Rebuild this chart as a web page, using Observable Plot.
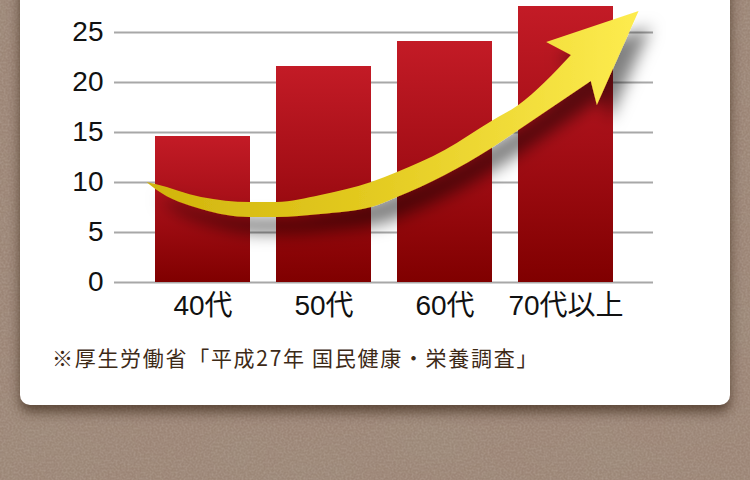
<!DOCTYPE html>
<html><head><meta charset="utf-8">
<script src="https://cdn.jsdelivr.net/npm/d3@7"></script>
<script src="https://cdn.jsdelivr.net/npm/@observablehq/plot@0.6"></script>
<style>
html,body{margin:0;padding:0;width:750px;height:480px;overflow:hidden;}
body{position:relative;background:#987f6f;}
#bg{position:absolute;left:0;top:0;}
#card{position:absolute;left:20px;top:-30px;width:710px;height:435px;background:#fff;border-radius:10px;box-shadow:0 7px 12px rgba(45,25,10,0.6);}
#chart{position:absolute;left:0;top:0;}
#caption{position:absolute;left:52px;top:342px;font-family:"Noto Sans CJK JP",sans-serif;font-size:21px;color:#3d2a17;letter-spacing:1.7px;white-space:nowrap;}
</style></head>
<body>
<svg id="bg" width="750" height="480">
  <defs>
    <filter id="tex" x="0" y="0" width="100%" height="100%">
      <feTurbulence type="fractalNoise" baseFrequency="0.008 0.014" numOctaves="4" seed="11" result="n"/>
      <feColorMatrix in="n" type="matrix" values="0 0 0 0 0.33  0 0 0 0 0.25  0 0 0 0 0.19  0 0 0 2.2 -0.95"/>
    </filter>
    <filter id="tex2" x="0" y="0" width="100%" height="100%">
      <feTurbulence type="fractalNoise" baseFrequency="0.5" numOctaves="2" seed="3" result="n"/>
      <feColorMatrix in="n" type="matrix" values="0 0 0 0 0.78  0 0 0 0 0.71  0 0 0 0 0.65  0 0 0 0.9 -0.3"/>
    </filter>
  </defs>
  <rect width="750" height="480" fill="#9c8576"/>
  <rect width="750" height="480" filter="url(#tex)"/>
  <rect width="750" height="480" filter="url(#tex2)" opacity="0.4"/>
</svg>
<div id="card"></div>
<div id="chart"></div>
<div id="caption">※厚生労働省「平成27年 国民健康・栄養調査」</div>
<script>
// ---- data ----
const categories = ["40代", "50代", "60代", "70代以上"];
const values = [14.6, 21.6, 24.1, 27.6];
const yTicks = [0, 5, 10, 15, 20, 25];

// decorative arrow outline, in chart units (u: category index offset, v: value units)
const arrowUpper = [[-0.464,10.0],[-0.390,9.8],[-0.012,8.5],[0.390,8.0],[0.612,8.0],[0.974,8.7],[1.393,10.0],[1.607,11.0],[2.001,13.2],[2.388,16.1],[2.610,17.7],[3.045,22.7]];
const arrowHead = [[2.840,24.0],[3.604,27.1],[3.259,17.7],[3.209,20.1]];
const arrowLower = [[3.209,20.1],[2.610,15.2],[2.388,13.4],[2.001,10.7],[1.607,8.5],[1.393,7.5],[0.974,6.8],[0.612,6.5],[0.390,6.5],[-0.012,7.3],[-0.390,9.3],[-0.464,10.0]];

const data = categories.map((c, i) => ({age: c, value: values[i]}));
const font = '"Liberation Sans", "Noto Sans CJK JP", sans-serif';

const plot = Plot.plot({
  width: 750, height: 330,
  marginLeft: 114, marginRight: 97, marginTop: 0, marginBottom: 48,
  style: {background: "transparent", fontFamily: font, color: "#111", overflow: "visible"},
  x: {domain: categories, paddingInner: 0.219, paddingOuter: 0.33, label: null},
  y: {domain: [0, 28.2], label: null},
  marks: [
    Plot.gridY(yTicks, {stroke: "#a8a8a8", strokeOpacity: 1, strokeWidth: 2}),
    Plot.barY(data, {x: "age", y: "value", fill: "url(#barGrad)"}),
    Plot.axisY(yTicks, {tickSize: 0, tickPadding: 11, fontSize: 28, label: null, fill: "#111"}),
    Plot.axisX({tickSize: 0, tickPadding: 13, fontSize: 28, label: null, fill: "#111"})
  ]
});
document.getElementById("chart").appendChild(plot);

const svg = d3.select(plot);
svg.insert("defs", ":first-child").html(`
  <linearGradient id="barGrad" x1="0" y1="0" x2="0" y2="1">
    <stop offset="0" stop-color="#c31b26"/>
    <stop offset="0.5" stop-color="#a40e16"/>
    <stop offset="1" stop-color="#800000"/>
  </linearGradient>
  <linearGradient id="arrowGrad" x1="0" y1="0" x2="1" y2="0">
    <stop offset="0" stop-color="#d1b40c"/>
    <stop offset="0.45" stop-color="#e3ca20"/>
    <stop offset="1" stop-color="#fdec4f"/>
  </linearGradient>
  <filter id="arrowShadow" x="-20%" y="-20%" width="150%" height="160%">
    <feDropShadow dx="12" dy="16" stdDeviation="8" flood-color="#000" flood-opacity="0.5"/>
  </filter>`);

// map decorative arrow via the plot's scales
const sx = plot.scale("x"), sy = plot.scale("y");
const x0 = sx.apply(categories[0]) + sx.bandwidth / 2;
const step = sx.apply(categories[1]) - sx.apply(categories[0]);
const P = ([u, v]) => [x0 + u * step, sy.apply(v)];
const curve = d3.line().curve(d3.curveMonotoneX);
const up = curve(arrowUpper.map(P));
const head = arrowHead.map(P).map(p => "L" + p[0] + "," + p[1]).join("");
const low = curve(arrowLower.map(P)).replace(/^M/, "L");
svg.append("path")
  .attr("d", up + head + low + "Z")
  .attr("fill", "url(#arrowGrad)")
  .attr("filter", "url(#arrowShadow)");
</script>
</body></html>
